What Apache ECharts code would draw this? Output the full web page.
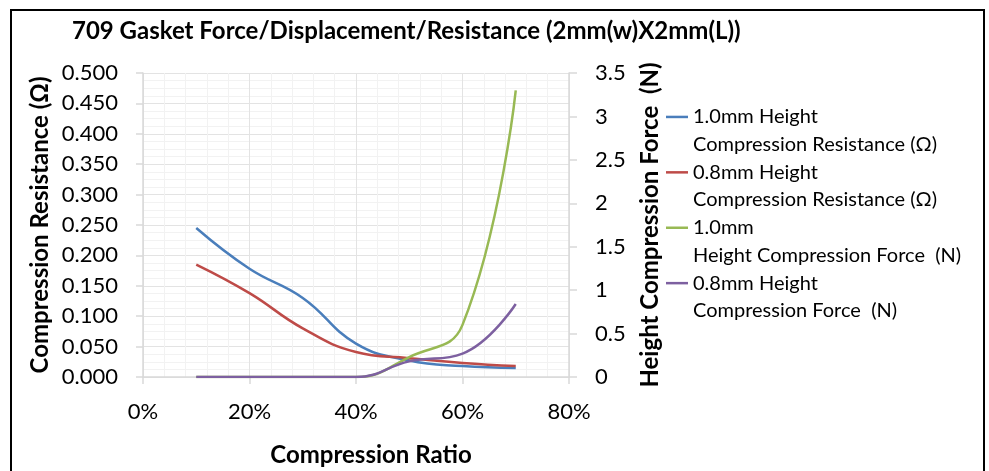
<!DOCTYPE html>
<html>
<head>
<meta charset="utf-8">
<script src="https://cdn.jsdelivr.net/npm/echarts@6/dist/echarts.min.js"></script>
<style>html,body{margin:0;padding:0;background:#fff;}#c{width:989px;height:471px;}</style>
</head>
<body>
<div id="c"></div>
<script>
const titleText = '709 Gasket Force/Displacement/Resistance (2mm(w)X2mm(L))';
const ratios = [0.1, 0.2, 0.3, 0.4, 0.5, 0.6, 0.7];
const res10 = [0.245, 0.178, 0.130, 0.055, 0.027, 0.018, 0.015];
const res08 = [0.185, 0.138, 0.080, 0.041, 0.031, 0.023, 0.018];
const force10 = [0, 0, 0, 0, 0.23, 0.60, 3.30];
const force08 = [0, 0, 0, 0, 0.18, 0.27, 0.84];
const seriesNames = [
  '1.0mm Height\nCompression Resistance (Ω)',
  '0.8mm Height\nCompression Resistance (Ω)',
  '1.0mm\nHeight Compression Force  (N)',
  '0.8mm Height\nCompression Force  (N)'
];
const colors = ['#4a7ebb', '#be4b48', '#98b954', '#7d60a0'];
const xName = 'Compression Ratio';
const yLeftName = 'Compression Resistance (Ω)';
const yRightName = 'Height Compression Force  (N)';

const F = 'Lato';
function pairs(ys) { return ratios.map((x, i) => [x, ys[i]]); }
function mk(i, ys, axis) {
  return {
    name: seriesNames[i], type: 'line', yAxisIndex: axis, data: pairs(ys),
    smooth: 0.45, showSymbol: false, symbol: 'none',
    lineStyle: { color: colors[i], width: 2.5 }, itemStyle: { color: colors[i] }
  };
}
const chart = echarts.init(document.getElementById('c'));
chart.setOption({
  animation: false,
  color: colors,
  textStyle: { fontFamily: F },
  graphic: [
    { type: 'rect', shape: { x: 11, y: 10, width: 973, height: 480 }, style: { fill: 'none', stroke: '#000', lineWidth: 2 }, z: 100 },
    { type: 'text', left: 72, top: 19, style: { text: titleText, font: 'bold 24px Lato', fill: '#000' } }
  ],
  grid: { left: 143, top: 73, width: 426, height: 304, outerBoundsMode: 'none', containLabel: false },
  legend: {
    orient: 'vertical', left: 666, top: 103, itemGap: 0, padding: 0,
    itemWidth: 22, itemHeight: 30,
    icon: 'path://M0,0L22,0L22,2.5L0,2.5ZM0,30',
    itemStyle: { borderWidth: 0 },
    textStyle: { fontFamily: F, fontSize: 20, color: '#000', lineHeight: 27.7 },
    data: seriesNames
  },
  xAxis: {
    type: 'value', min: 0, max: 0.8, interval: 0.2,
    name: xName, nameLocation: 'middle', nameGap: 66,
    nameTextStyle: { fontFamily: F, fontSize: 24, fontWeight: 'bold', color: '#000', padding: [0, 0, 0, 30] },
    axisLine: { show: true, onZero: false, lineStyle: { color: '#d9d9d9', width: 1.5 } },
    axisTick: { show: true, length: 7, lineStyle: { color: '#d9d9d9', width: 1.5 } },
    axisLabel: { fontFamily: F, fontSize: 22, color: '#000', margin: 24, formatter: v => Math.round(v * 100) + '%' },
    splitLine: { show: true, lineStyle: { color: '#e3e3e3', width: 1 } },
    minorTick: { show: false, splitNumber: 5 },
    minorSplitLine: { show: true, lineStyle: { color: '#f2f2f2', width: 1 } }
  },
  yAxis: [
    {
      type: 'value', min: 0, max: 0.5, interval: 0.05, position: 'left',
      name: yLeftName, nameLocation: 'middle', nameGap: 91,
      nameTextStyle: { fontFamily: F, fontSize: 24, fontWeight: 'bold', color: '#000' },
      axisLine: { show: true, lineStyle: { color: '#d9d9d9', width: 1.5 } },
      axisTick: { show: true, length: 7, lineStyle: { color: '#d9d9d9', width: 1.5 } },
      axisLabel: { fontFamily: F, fontSize: 22, color: '#000', margin: 25, formatter: v => v.toFixed(3) },
      splitLine: { show: true, lineStyle: { color: '#e3e3e3', width: 1 } },
      minorTick: { show: false, splitNumber: 4 },
      minorSplitLine: { show: true, lineStyle: { color: '#f2f2f2', width: 1 } }
    },
    {
      type: 'value', min: 0, max: 3.5, interval: 0.5, position: 'right',
      name: yRightName, nameLocation: 'middle', nameGap: 69,
      nameTextStyle: { fontFamily: F, fontSize: 24, fontWeight: 'bold', color: '#000' },
      axisLine: { show: true, lineStyle: { color: '#d9d9d9', width: 1.5 } },
      axisTick: { show: true, length: 8, lineStyle: { color: '#d9d9d9', width: 1.5 } },
      axisLabel: { fontFamily: F, fontSize: 22, color: '#000', margin: 26, formatter: v => String(v) },
      splitLine: { show: false }
    }
  ],
  series: [mk(0, res10, 0), mk(1, res08, 0), mk(2, force10, 1), mk(3, force08, 1)]
});
</script>
</body>
</html>
